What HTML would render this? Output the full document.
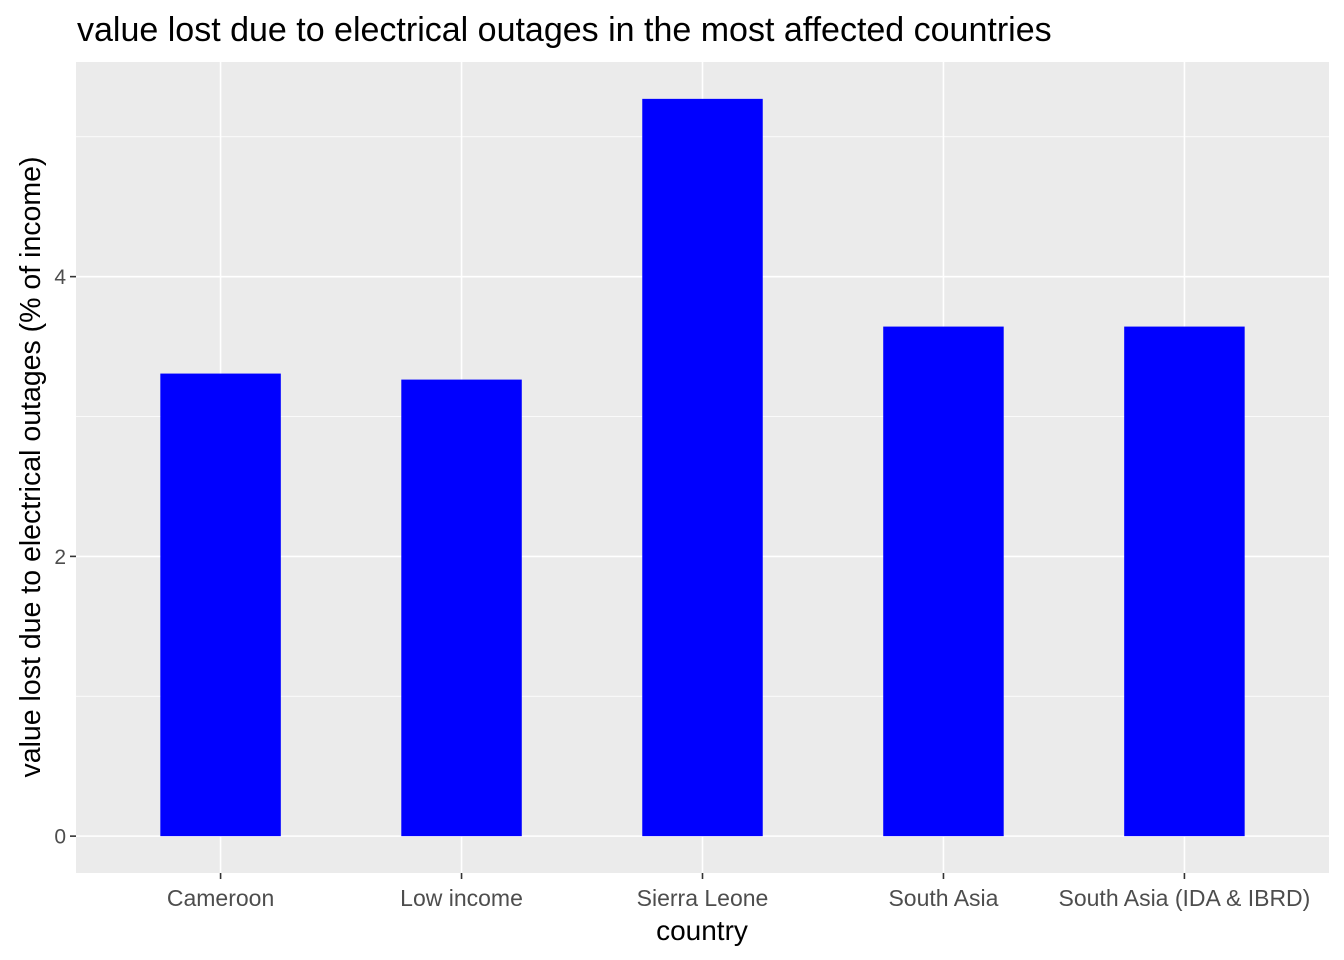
<!DOCTYPE html>
<html><head><meta charset="utf-8"><style>
html,body{margin:0;padding:0;background:#fff;}
svg{display:block;font-family:"Liberation Sans",Arial,sans-serif;}
</style></head><body>
<svg id="chart" width="1344" height="960">
<text x="77" y="41" font-size="34" fill="#000">value lost due to electrical outages in the most affected countries</text>
<rect x="76" y="62" width="1253" height="811" fill="#ebebeb"/>
<g id="grid"></g><g id="bars"></g><g id="axes"></g>
<text x="702" y="940" font-size="28" text-anchor="middle" fill="#000">country</text>
<text transform="translate(40,467) rotate(-90)" font-size="28.5" text-anchor="middle" fill="#000">value lost due to electrical outages (% of income)</text>
</svg>
<script>
const categories=["Cameroon","Low income","Sierra Leone","South Asia","South Asia (IDA & IBRD)"];
const values=[3.307,3.264,5.271,3.643,3.643];
const yTicks=[0,2,4];
const yMinor=[1,3,5];
const ns="http://www.w3.org/2000/svg";
const L=76,R=1329,T=62,B=873;
const ymax=Math.max(...values), ylo=-0.05*ymax, yhi=ymax*1.05;
const y=v=>B-(v-ylo)/(yhi-ylo)*(B-T);
const step=(R-L)/(categories.length-1+1.2);
const x=i=>L+(0.6+i)*step;
function mk(tag,attrs,parent,text){const e=document.createElementNS(ns,tag);for(const k in attrs)e.setAttribute(k,attrs[k]);if(text!==undefined)e.textContent=text;document.getElementById(parent).appendChild(e);return e;}
yMinor.forEach(v=>{const e=mk("line",{x1:L,x2:R,y1:y(v),y2:y(v),stroke:"#fff","stroke-width":0.8},"grid");

});
yTicks.forEach(v=>{const e=mk("line",{x1:L,x2:R,y1:y(v),y2:y(v),stroke:"#fff","stroke-width":1.6},"grid");


const t=mk("line",{x1:L-6,x2:L,y1:y(v),y2:y(v),stroke:"#333","stroke-width":1.6},"axes");


const l=mk("text",{x:L-10,y:y(v)+7.5,"font-size":21,"text-anchor":"end",fill:"#4d4d4d"},"axes",String(v));

});
categories.forEach((c,i)=>{const g=mk("line",{x1:x(i),x2:x(i),y1:T,y2:B,stroke:"#fff","stroke-width":1.6},"grid");


const w=step*0.5;
const b=mk("rect",{x:x(i)-w/2,y:y(values[i]),width:w,height:y(0)-y(values[i]),fill:"#0000ff"},"bars");


const t=mk("line",{x1:x(i),x2:x(i),y1:B,y2:B+6,stroke:"#333","stroke-width":1.6},"axes");


const l=mk("text",{x:x(i),y:906,"font-size":23,"text-anchor":"middle",fill:"#4d4d4d"},"axes",c);

});
</script>
</body></html>
